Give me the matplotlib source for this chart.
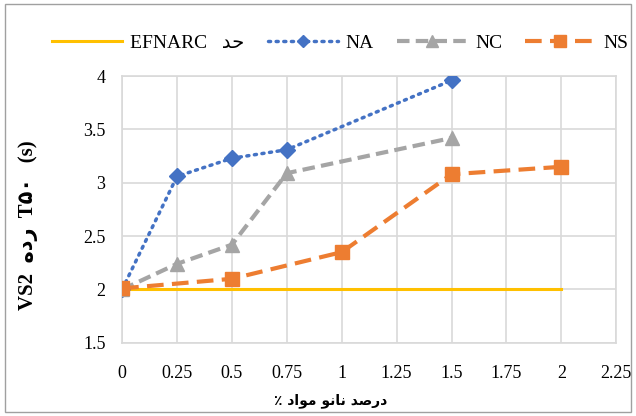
import matplotlib.pyplot as plt
from matplotlib.patches import Rectangle

# data
na_x = [0, 0.25, 0.5, 0.75, 1.5]
na_y = [2.0, 3.06, 3.23, 3.31, 3.96]
nc_x = [0, 0.25, 0.5, 0.75, 1.5]
nc_y = [2.0, 2.24, 2.42, 3.09, 3.42]
ns_x = [0, 0.5, 1, 1.5, 2]
ns_y = [2.01, 2.1, 2.35, 3.08, 3.15]
lim_x = [0, 2]
lim_y = [2, 2]

x_ticks = [0, 0.25, 0.5, 0.75, 1, 1.25, 1.5, 1.75, 2, 2.25]
x_labels = ['0', '0.25', '0.5', '0.75', '1', '1.25', '1.5', '1.75', '2', '2.25']
y_ticks = [1.5, 2, 2.5, 3, 3.5, 4]
y_labels = ['1.5', '2', '2.5', '3', '3.5', '4']

# arabic text written in visual order with presentation forms
lim_label = 'EFNARC   \uFEAA\uFEA3'
x_title = '\u066A \uFEA9\uFE8D\uFEEE\uFEE3 \uFEEE\uFEE7\uFE8E\uFEE7 \uFEAA\uFEBB\uFEAD\uFEA9'
y_title = 'VS2  \uFEE9\uFEA9\uFEAD  T\u06F5\u06F0   (s)'

fam = ['Liberation Serif', 'DejaVu Sans']
plt.rcParams['font.family'] = fam

fig = plt.figure(figsize=(6.36, 4.16), dpi=100)
ax = fig.add_axes([0.192, 0.176, 0.777, 0.641])

ax.plot(lim_x, lim_y, color='#FFC000', lw=2.2, label=lim_label, zorder=2)
ax.plot(na_x, na_y, color='#4472C4', lw=2.5, linestyle=(0, (0.6, 1.6)), dash_capstyle='round',
        marker='D', markersize=8, label='NA', zorder=3)
ax.plot(nc_x, nc_y, color='#A5A5A5', lw=3, linestyle=(0, (3, 1.5)),
        marker='^', markersize=10, label='NC', zorder=3)
ax.plot(ns_x, ns_y, color='#ED7D31', lw=3, linestyle=(0, (4, 2)),
        marker='s', markersize=10, label='NS', zorder=4)

ax.set_xlim(0, 2.25)
ax.set_ylim(1.5, 4)
ax.set_xticks(x_ticks)
ax.set_xticklabels(x_labels, fontsize=13)
ax.set_yticks(y_ticks)
ax.set_yticklabels(y_labels, fontsize=13)
ax.tick_params(axis='x', length=0, pad=16)
ax.tick_params(axis='y', length=0, pad=12)
ax.grid(True, color='#D9D9D9', lw=1.2)
ax.set_axisbelow(True)
for s in ax.spines.values():
    s.set_color('#D9D9D9')
    s.set_linewidth(1.2)

ax.set_xlabel(x_title, fontsize=10, fontweight='bold', family='DejaVu Sans', va='center')
ax.xaxis.set_label_coords(0.421, -0.217)
ax.set_ylabel(y_title, fontsize=15, fontweight='bold', va='center')
ax.yaxis.set_label_coords(-0.19, 0.44)

fig.legend(loc='center', bbox_to_anchor=(0.535, 0.897), ncol=4, frameon=False,
           fontsize=14, handlelength=3.6, columnspacing=1.2, handletextpad=0.4,
           markerscale=0.8)

fig.patches.append(Rectangle((0.008, 0.01), 0.984, 0.98, transform=fig.transFigure,
                             fill=False, edgecolor='#A0A0A0', lw=1))

fig.savefig('out.png', dpi=100)
